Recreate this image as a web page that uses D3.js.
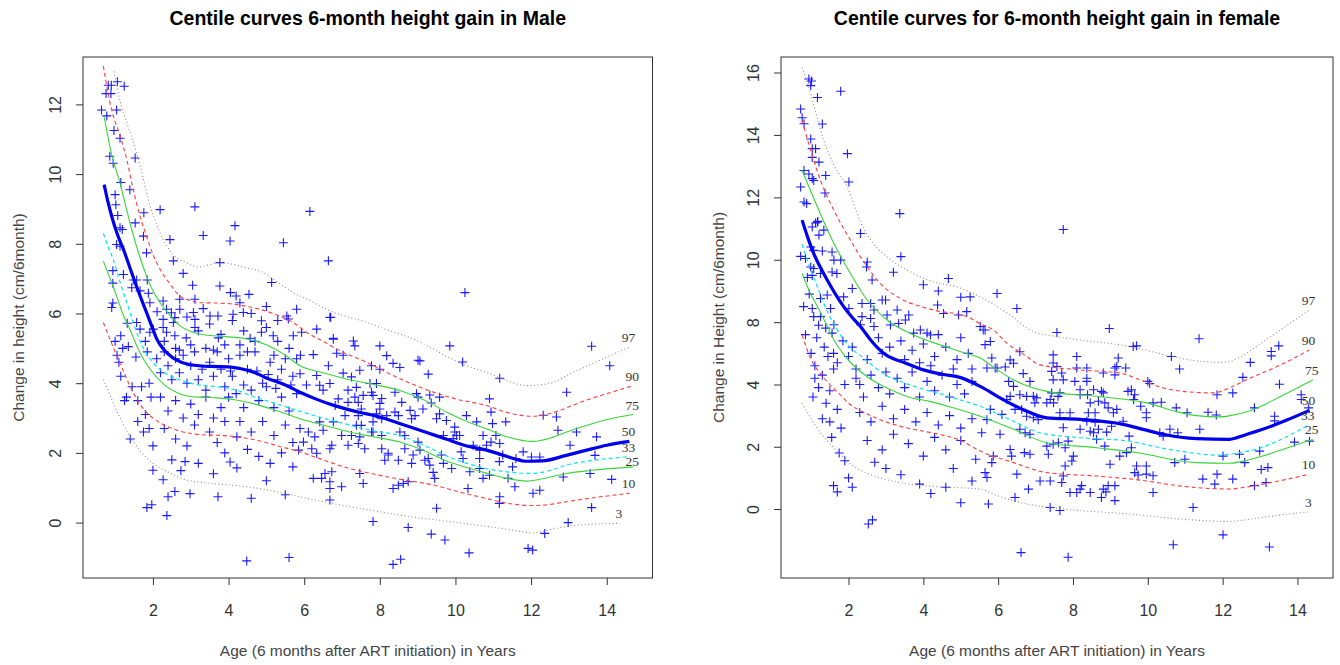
<!DOCTYPE html>
<html><head><meta charset="utf-8">
<script src="https://cdn.jsdelivr.net/npm/d3@7"></script>
<style>body{margin:0;background:#fff}svg{display:block}</style>
</head><body>
<svg id="chart" width="1340" height="665"></svg>
<script>
// ---------------- DATA ----------------
const xTicks = [2,4,6,8,10,12,14];
const maleYTicks = [0,2,4,6,8,10,12];
const femaleYTicks = [0,2,4,8,10,12,14,16];
const centileNames = ["97","90","75","50","33","25","10","3"];

const maleTitle = "Centile curves 6-month height gain in Male";
const femaleTitle = "Centile curves for 6-month height gain in female";
const xTitle = "Age (6 months after ART initiation) in Years";
const maleYTitle = "Change in height (cm/6month)";
const femaleYTitle = "Change in Height (cm/6month)";

// Male centile curves [age, gain]
const male97 = [[0.97,12.95],[1.13,12.1],[1.35,11.35],[1.57,10.6],[1.75,9.85],[1.92,9.1],[2.1,8.55],[2.27,8.12],[2.45,7.8],[2.63,7.6],[2.9,7.45],[3.2,7.33],[3.5,7.4],[3.77,7.46],[4.12,7.41],[4.5,7.3],[4.87,7.2],[5.3,6.9],[5.71,6.6],[6.1,6.4],[6.59,6.12],[7.0,5.95],[7.5,5.8],[8.09,5.57],[8.5,5.42],[8.79,5.31],[9.3,5.05],[9.8,4.75],[10.3,4.5],[10.82,4.31],[11.3,4.1],[11.88,3.93],[12.2,3.95],[12.6,4.03],[13.0,4.25],[13.5,4.5],[14.0,4.75],[14.6,5.03]];
const male90 = [[0.69,13.1],[0.8,12.4],[0.91,11.84],[1.0,11.5],[1.08,11.27],[1.2,10.85],[1.31,10.41],[1.45,9.7],[1.61,8.98],[1.83,8.22],[2.0,7.7],[2.19,7.27],[2.45,6.85],[2.71,6.5],[3.0,6.37],[3.24,6.31],[3.7,6.3],[4.12,6.27],[4.5,6.2],[4.83,6.12],[5.3,5.95],[5.71,5.74],[6.06,5.46],[6.5,5.2],[7.0,4.9],[7.65,4.6],[8.2,4.3],[8.8,4.0],[9.4,3.75],[10.0,3.55],[10.82,3.36],[11.4,3.15],[12.05,3.05],[12.4,3.1],[12.76,3.22],[13.3,3.45],[14.0,3.7],[14.7,3.93]];
const male75 = [[0.71,11.65],[0.9,10.6],[1.13,9.74],[1.3,9.0],[1.44,8.41],[1.63,7.7],[1.83,7.08],[2.0,6.65],[2.19,6.31],[2.45,5.95],[2.71,5.65],[3.1,5.45],[3.6,5.36],[4.0,5.33],[4.48,5.27],[5.0,5.1],[5.5,4.8],[5.89,4.5],[6.5,4.3],[7.2,4.1],[7.9,3.95],[8.53,3.79],[9.2,3.5],[9.8,3.15],[10.3,2.9],[10.82,2.69],[11.4,2.45],[12.05,2.33],[12.5,2.42],[12.94,2.6],[13.5,2.8],[14.1,2.98],[14.7,3.1]];
const male50 = [[0.71,9.7],[0.8,9.25],[0.91,8.79],[1.05,8.3],[1.22,7.84],[1.38,7.35],[1.53,6.89],[1.68,6.45],[1.83,6.03],[2.0,5.55],[2.1,5.27],[2.3,4.95],[2.5,4.75],[2.75,4.6],[3.0,4.53],[3.5,4.48],[4.0,4.47],[4.3,4.42],[4.7,4.3],[5.0,4.15],[5.5,3.95],[5.89,3.74],[6.3,3.55],[6.76,3.37],[7.4,3.18],[8.0,3.03],[8.5,2.85],[9.2,2.6],[9.77,2.39],[10.3,2.2],[10.82,2.08],[11.3,1.92],[11.88,1.76],[12.3,1.77],[12.9,1.92],[13.47,2.08],[14.0,2.22],[14.6,2.33]];
const male33 = [[0.69,8.3],[0.82,7.9],[0.95,7.55],[1.13,6.9],[1.31,6.31],[1.45,5.85],[1.57,5.46],[1.75,5.0],[2.0,4.6],[2.3,4.3],[2.7,4.1],[3.2,3.95],[3.7,3.9],[4.2,3.8],[4.7,3.6],[5.3,3.4],[5.89,3.19],[6.5,3.0],[7.2,2.8],[7.9,2.62],[8.53,2.5],[9.2,2.2],[9.8,1.9],[10.3,1.7],[10.82,1.55],[11.4,1.45],[12.05,1.41],[12.5,1.5],[12.94,1.65],[13.6,1.78],[14.6,1.89]];
const male25 = [[0.69,7.5],[0.85,7.05],[1.04,6.5],[1.2,6.0],[1.39,5.55],[1.6,5.0],[1.8,4.6],[2.0,4.3],[2.3,3.95],[2.7,3.7],[3.2,3.6],[3.7,3.58],[4.2,3.52],[4.7,3.4],[5.3,3.2],[5.89,2.98],[6.5,2.8],[7.2,2.6],[7.9,2.45],[8.53,2.31],[9.2,2.05],[9.8,1.75],[10.3,1.58],[10.82,1.42],[11.3,1.28],[11.88,1.19],[12.4,1.28],[12.94,1.41],[13.6,1.5],[14.7,1.6]];
const male10 = [[0.69,5.74],[0.85,5.3],[1.0,4.9],[1.2,4.4],[1.4,3.9],[1.6,3.5],[1.8,3.2],[2.0,3.0],[2.4,2.75],[2.8,2.6],[3.3,2.52],[3.8,2.5],[4.3,2.45],[4.8,2.35],[5.3,2.2],[5.89,2.03],[6.5,1.8],[7.2,1.55],[7.8,1.4],[8.5,1.25],[9.41,1.08],[10.1,0.88],[10.82,0.69],[11.4,0.55],[12.05,0.49],[12.5,0.52],[12.94,0.6],[13.7,0.72],[14.6,0.84]];
const male3 = [[0.69,4.1],[0.85,3.7],[1.0,3.3],[1.2,2.85],[1.5,2.3],[1.75,1.95],[2.0,1.7],[2.4,1.45],[2.8,1.25],[3.3,1.15],[3.8,1.1],[4.3,1.05],[4.8,0.98],[5.3,0.88],[5.89,0.74],[6.5,0.6],[7.2,0.46],[7.9,0.33],[8.6,0.2],[9.85,0.03],[10.5,-0.06],[11.17,-0.16],[11.6,-0.23],[12.05,-0.3],[12.5,-0.2],[12.94,-0.11],[13.6,-0.05],[14.35,-0.02]];

// Male observations [age, gain]
const malePoints = [
[0.64,11.84],[0.82,12.55],[0.76,12.31],[0.89,12.31],[0.9,12.55],[1.06,12.65],[1.24,12.52],[0.78,11.67],[1.04,11.84],[0.97,11.25],[1.13,11.03],[0.86,10.51],[0.95,10.31],[1.53,10.46],[1.15,9.76],[1.39,9.55],[1.0,9.41],[1.02,9.12],[1.07,8.81],[1.13,8.46],[1.19,8.41],[1.76,8.89],[2.19,8.98],[3.11,9.06],[1.53,8.6],[1.75,8.22],[1.83,7.74],[2.45,8.12],[3.33,8.24],[4.17,8.52],[4.04,8.08],[3.77,7.46],[2.54,7.51],[2.8,7.15],[1.04,7.98],[1.13,7.93],[0.94,7.23],[0.94,6.87],[0.94,6.3],[0.91,6.17],[1.22,7.12],[1.44,6.74],[1.48,6.96],[1.57,6.96],[1.85,6.96],[1.66,6.65],[1.88,6.58],[1.92,6.31],[2.27,6.36],[2.36,6.12],[3.05,6.81],[3.11,6.41],[3.77,6.79],[4.05,6.6],[4.3,6.31],[4.54,6.55],[3.33,6.14],[3.07,6.03],[3.11,5.83],[3.11,5.6],[2.71,6.41],[2.71,6.12],[3.51,5.93],[3.72,5.93],[4.12,5.98],[4.39,6.03],[5.45,8.03],[6.15,8.93],[6.64,7.51],[5.14,6.89],[5.8,6.12],[5.54,5.93],[5.58,5.84],[6.68,5.89],[6.33,5.55],[6.77,5.29],[4.87,5.79],[4.87,5.46],[5.18,5.36],[5.71,5.36],[5.93,5.46],[4.57,5.29],[3.73,5.3],[2.88,5.3],[2.58,5.36],[2.36,5.46],[2.27,5.6],[2.54,5.74],[2.58,5.88],[2.49,6.02],[2.01,5.55],[1.66,5.55],[1.57,5.74],[1.32,5.72],[1.15,5.36],[1.92,5.46],[2.11,6.05],[2.27,5.83],
[1.05,4.8],[1.1,4.6],[1.2,5.0],[1.15,4.2],[1.3,3.6],[1.25,3.5],[1.45,3.9],[1.6,3.5],[1.7,3.9],[1.8,3.1],[1.9,4.0],[1.95,3.6],[1.4,2.4],[1.6,2.9],[1.75,2.6],[1.9,2.7],[2.0,2.2],[1.0,5.2],[1.35,5.05],[1.55,4.75],[1.85,4.9],[1.8,5.2],[1.84,0.43],[1.97,0.51],[2.0,1.5],
[2.1,4.7],[2.2,4.3],[2.3,4.9],[2.4,4.5],[2.5,4.1],[2.6,4.7],[2.7,4.3],[2.8,4.8],[2.9,4.0],[3.0,4.5],[3.1,4.9],[3.2,4.1],[3.3,4.4],[3.4,3.8],[3.5,4.6],[3.6,4.2],[3.7,4.9],[3.8,4.4],[3.9,3.9],[4.0,4.7],[2.2,3.6],[2.4,3.2],[2.6,3.5],[2.8,3.0],[3.0,3.4],[3.2,3.1],[3.4,3.6],[3.6,3.0],[3.8,3.3],[4.0,3.6],[2.3,2.7],[2.6,2.4],[2.9,2.2],[3.1,2.8],[3.5,2.6],[3.7,2.3],[3.9,2.9],[2.5,1.8],[2.85,1.75],[3.2,1.7],[3.6,1.4],[3.9,2.0],[2.27,1.23],[2.4,0.74],[2.58,0.89],[2.37,0.2],[2.74,1.49],[2.98,0.83],[3.72,0.74],[4.04,1.74],[4.22,1.57],[4.22,2.46],[4.48,-1.1],
[2.3,5.2],[2.6,5.0],[2.9,5.9],[3.2,5.5],[3.5,5.7],[3.8,5.4],[4.1,5.8],[4.4,5.5],[4.7,5.2],[5.0,5.6],[5.3,5.2],[5.6,5.0],[4.2,6.5],[4.6,6.0],[5.0,6.2],[5.3,5.8],[3.0,5.1],[3.4,5.0],[3.9,5.1],[4.5,4.9],[5.2,4.8],[5.8,4.7],[2.7,4.95],[3.6,4.95],[4.3,5.1],
[4.1,4.2],[4.3,4.8],[4.5,4.4],[4.7,4.9],[4.9,4.0],[5.1,4.6],[5.3,4.1],[5.5,4.7],[5.7,4.2],[5.9,4.8],[4.2,3.7],[4.4,3.3],[4.6,3.8],[4.8,3.5],[5.0,3.9],[5.2,3.3],[5.4,3.6],[5.6,3.2],[5.8,3.7],[4.3,2.9],[4.6,2.6],[4.9,2.9],[5.2,2.5],[5.5,2.8],[5.7,2.3],[4.5,2.1],[4.8,1.9],[5.1,1.7],[5.4,2.0],[5.7,1.6],[5.0,1.2],[5.5,0.8],[4.6,0.7],[5.6,-1.0],[5.4,4.4],[4.05,4.35],[4.75,4.35],[5.05,4.25],[5.65,3.95],[4.4,3.95],[5.25,3.85],
[10.25,6.6],[6.7,5.89],[6.33,5.55],[6.77,5.26],[7.3,5.21],[7.34,5.07],[8.0,5.07],[9.85,5.07],[6.24,4.82],[6.86,4.86],[7.03,4.8],[8.18,4.79],[9.06,4.64],[10.19,4.61],[11.17,4.14],[8.35,4.57],[6.64,4.5],[7.47,4.37],[7.78,4.5],[8.0,4.4],[8.53,4.45],[9.28,4.26],[5.89,4.27],[6.33,4.22],[6.68,3.99],[7.03,4.29],[7.25,4.18],[7.74,3.99],[7.91,3.99],[9.01,4.66],[6.06,3.95],[6.41,3.94],[6.5,3.8],[7.16,3.8],[7.78,3.74],[7.82,3.65],[8.05,3.56],[8.0,3.42],[8.4,3.74],[8.97,3.7],[9.01,3.6],[9.32,3.66],[9.36,3.43],[9.58,3.6],[9.98,2.74],[10.56,2.89],[10.98,2.84],[11.33,2.89],[10.94,3.17],[10.9,3.55],[10.94,2.31],[11.07,2.5],[11.17,2.27],[11.79,2.03],[12.01,1.88],[12.23,1.88],[12.32,3.08],[12.67,3.03],[12.71,2.65],[12.94,3.74],[13.03,2.22],[13.2,2.6],[13.6,5.06],[14.08,4.5],[13.69,1.93],[13.73,2.46],[14.13,1.24],[13.56,1.41],[12.85,1.31],[13.6,0.43],[12.23,0.93],[12.05,0.84],[11.17,0.74],[11.16,0.55],[11.57,1.03],[11.39,1.27],[10.9,1.36],[10.73,1.27],[10.33,0.98],[10.64,1.55],[10.64,1.84],[10.64,2.08],[10.2,1.84],[10.15,2.03],[9.9,1.55],[9.68,1.7],[9.63,1.94],[9.68,2.5],[10.03,2.5],[9.98,2.6],[9.45,1.27],[9.41,1.44],[9.5,0.41],[9.32,1.65],[9.19,1.79],[9.06,2.08],[8.84,1.7],[8.75,1.17],[8.62,1.12],[8.49,1.07],[8.35,0.98],[8.22,1.94],[8.13,1.79],[8.05,2.12],[7.82,2.6],[7.82,2.89],[7.6,2.12],[7.43,2.27],[7.16,2.22],[7.38,2.79],[7.51,2.79],[7.56,1.12],[7.47,1.41],[6.99,1.03],[6.68,0.65],[6.68,0.98],[6.68,1.17],[6.73,1.46],[6.55,1.41],[6.46,1.27],[6.24,1.27],[6.2,2.12],[6.28,2.46],[6.11,2.6],[5.85,2.08],[6.33,1.99],[5.89,2.7],[5.98,2.31],[6.5,2.65],[6.68,2.12],[6.73,2.22],[6.99,2.5],[7.25,2.5],[7.47,2.46],[7.78,2.6],[8.05,2.5],[8.22,1.99],[8.49,1.79],[8.66,2.12],[8.88,1.94],[8.66,2.5],[8.53,2.6],[8.84,2.98],[9.01,2.31],[9.28,1.84],[7.82,0.03],[8.75,-0.14],[9.36,-0.33],[9.72,-0.5],[12.36,-0.31],[12.98,0.0],[11.92,-0.74],[8.49,3.07],[8.58,3.45],[8.05,2.98],[7.91,3.12],[7.43,3.07],[7.08,3.07],[6.77,2.89],[6.41,2.89],[7.16,3.45],[6.82,3.36],[7.43,3.45],[7.51,3.26],[6.9,3.55],[7.34,3.6],[7.56,3.65],[7.38,3.88],[8.0,3.26],[8.18,3.07],[8.4,3.17],[8.8,3.22],[8.93,3.07],[9.14,3.26],[9.5,2.98],[9.58,3.12],[9.76,2.93],[10.11,2.5],[10.29,3.07],[10.73,2.5],[10.82,2.22],[10.47,2.22],[11.25,1.94],[11.6,1.84],[11.51,1.6],[11.16,1.75],[10.38,1.46],[9.94,2.41],
[8.35,-1.2],[8.55,-1.05],[10.36,-0.87],[12.04,-0.79]
];

// Female centile curves [age, gain] (values read against the printed axis labels)
const female97 = [[0.76,16.16],[0.99,15.31],[1.15,14.6],[1.34,13.82],[1.61,13.02],[1.97,12.33],[2.32,11.21],[2.59,10.63],[3.03,10.09],[3.57,9.67],[4.27,9.29],[4.9,9.13],[5.52,8.81],[6.32,8.23],[6.85,7.5],[7.5,7.1],[8.19,6.86],[9.52,6.44],[10.3,6.0],[11.12,5.58],[12.01,5.42],[12.5,5.8],[12.9,6.44],[13.6,7.6],[14.32,8.39]];
const female90 = [[0.76,14.46],[0.99,13.5],[1.25,12.54],[1.61,11.58],[2.05,10.63],[2.5,9.77],[2.94,9.13],[3.39,8.76],[4.27,8.39],[5.16,8.18],[5.52,7.9],[5.87,7.5],[6.23,6.66],[6.7,5.9],[7.12,5.26],[8.19,4.94],[9.25,4.74],[9.8,4.3],[10.41,3.89],[11.1,3.76],[11.74,3.73],[12.2,3.9],[12.63,4.3],[13.5,5.2],[14.32,6.22]];
const female75 = [[0.76,12.86],[1.17,11.69],[1.61,10.52],[2.05,9.56],[2.5,8.71],[3.03,8.07],[3.74,7.18],[4.5,6.5],[5.0,6.1],[5.52,5.7],[6.0,4.9],[6.41,4.3],[7.3,3.78],[8.63,3.62],[9.97,3.41],[10.7,3.15],[11.3,3.0],[11.92,2.96],[12.4,3.05],[12.81,3.19],[13.6,3.65],[14.41,4.3]];
const female50 = [[0.76,11.27],[0.9,10.75],[1.07,10.2],[1.25,9.75],[1.43,9.35],[1.65,8.9],[1.87,8.5],[2.1,8.15],[2.32,7.72],[2.59,6.86],[2.8,6.3],[3.0,5.9],[3.5,5.4],[4.0,4.94],[4.5,4.66],[5.0,4.44],[5.52,3.94],[6.14,3.51],[6.67,3.19],[7.3,2.93],[8.19,2.88],[9.34,2.72],[9.9,2.55],[10.41,2.4],[11.3,2.26],[12.19,2.24],[12.6,2.38],[13.07,2.56],[13.7,2.85],[14.32,3.17]];
const female33 = [[0.76,10.5],[0.95,9.8],[1.17,9.13],[1.43,8.35],[1.7,7.5],[2.0,6.5],[2.4,5.7],[3.0,4.6],[3.5,4.1],[4.0,3.85],[4.6,3.65],[5.0,3.5],[5.52,3.3],[6.41,2.82],[7.12,2.45],[8.19,2.29],[9.52,2.18],[10.2,2.0],[10.85,1.86],[11.92,1.73],[12.4,1.8],[12.9,1.92],[13.5,2.2],[14.3,2.7]];
const female25 = [[0.76,9.56],[0.95,9.0],[1.17,8.5],[1.4,7.9],[1.61,6.86],[1.85,6.0],[2.1,5.3],[2.5,4.5],[3.0,3.9],[3.6,3.6],[4.2,3.45],[4.8,3.25],[5.52,2.98],[6.41,2.56],[7.3,2.13],[8.63,1.97],[9.97,1.76],[10.6,1.6],[11.3,1.49],[12.19,1.47],[12.6,1.55],[13.07,1.7],[13.7,1.95],[14.41,2.24]];
const female10 = [[0.76,7.18],[1.0,5.6],[1.25,4.7],[1.5,4.0],[1.75,3.7],[2.0,3.4],[2.5,3.05],[3.0,2.8],[3.5,2.62],[4.0,2.5],[4.5,2.38],[5.0,2.2],[5.52,1.86],[6.41,1.49],[7.3,1.17],[8.63,1.06],[9.97,0.9],[10.6,0.78],[11.3,0.69],[12.19,0.64],[12.6,0.7],[13.07,0.8],[13.7,0.95],[14.32,1.12]];
const female3 = [[0.76,3.4],[1.0,2.9],[1.25,2.45],[1.5,2.1],[1.75,1.8],[2.0,1.5],[2.5,1.15],[3.0,0.95],[3.5,0.82],[4.0,0.75],[4.6,0.7],[5.0,0.68],[5.52,0.64],[6.0,0.42],[6.59,0.21],[7.74,0.0],[9.52,-0.16],[10.85,-0.32],[12.19,-0.4],[12.6,-0.35],[13.07,-0.27],[13.7,-0.17],[14.32,-0.09]];

// Female observations [age, gain]
const femalePoints = [
[0.94,15.79],[1.01,15.73],[0.99,15.58],[1.17,15.2],[1.79,15.4],[0.72,14.83],[0.76,14.55],[0.81,14.36],[1.3,14.35],[0.99,13.87],[1.03,13.56],[1.12,13.56],[1.03,13.28],[1.21,13.13],[1.97,13.4],[2.01,12.49],[1.39,12.7],[0.81,12.86],[0.94,12.75],[0.72,12.33],[1.03,12.6],[1.07,12.54],[1.37,12.14],[0.81,11.85],[0.88,11.8],[1.17,11.21],[1.03,11.05],[1.12,11.18],[1.18,11.23],[1.34,10.95],[1.21,10.79],[2.32,10.84],[0.72,10.11],[0.85,10.04],[0.99,10.41],[1.07,10.3],[1.3,10.28],[1.56,10.25],[1.61,9.99],[1.79,9.99],[0.99,9.77],[1.07,9.72],[0.9,9.43],[1.03,9.5],[1.25,9.56],[1.56,9.61],[1.69,9.56],[1.87,8.81],[2.1,9.08],[2.5,9.93],[2.48,9.77],[2.63,9.35],[1.03,8.44],[1.07,8.18],[1.25,8.76],[1.43,8.87],[1.52,8.44],[1.61,7.84],[1.25,8.18],[1.39,7.62],[1.56,7.3],[2.01,8.44],[2.36,8.6],[2.59,8.6],[2.68,8.39],[2.9,8.71],[2.99,8.71],[3.3,8.39],[3.61,8.23],[2.59,8.12],[2.68,7.72],[2.36,8.18],[2.32,7.84],[3.03,8.23],[3.12,7.82],[3.34,7.92],[3.52,8.07],[3.74,7.3],[3.92,7.5],[4.1,7.3],[4.19,7.18],[4.38,8.55],[4.54,8.28],[4.67,9.4],[4.94,8.23],[5.16,8.34],[5.25,8.81],[5.97,8.92],[6.5,8.44],[5.52,7.72],[5.65,7.5],[3.37,11.48],
[7.74,10.97],[7.57,7.34],[8.97,7.6],[9.61,6.44],[9.7,6.48],[11.37,6.94],[10.63,5.8],[10.85,5.0],[12.74,5.42],[13.3,6.12],[13.3,5.84],[13.5,6.48],[12.54,4.46],[13.52,4.02],[12.27,3.73],[11.85,3.67],[11.61,3.11],[11.83,3.02],[12.85,3.25],[13.39,2.98],[13.39,2.83],[14.1,3.67],[14.1,3.52],[14.3,3.25],[13.92,2.15],[14.32,2.18],[12.99,1.86],[12.45,1.76],[12.59,1.49],[12.01,1.7],[11.39,2.56],[11.05,3.09],[10.76,3.25],[10.59,2.56],[10.72,1.49],[10.99,1.6],[11.47,0.96],[11.79,0.8],[11.85,1.12],[12.27,0.96],[12.85,0.75],[13.03,1.27],[13.21,1.33],[13.16,0.85],[11.21,0.05],[12.01,-0.83],[10.68,-1.15],[13.25,-1.22],[10.14,0.53],[9.96,1.38],[9.96,1.12],[10.14,1.07],[9.74,1.09],[9.65,1.17],[9.7,1.38],[9.96,3.09],[9.96,2.93],[10.14,3.41],[10.36,3.43],[10.05,4.06],[10.0,4.2],[9.81,3.3],[9.65,3.67],[9.56,3.83],[9.62,3.52],[9.47,3.78],[9.41,5.06],[9.21,5.7],[9.17,5.16],[9.12,4.62],[9.5,2.34],[9.56,1.97],[9.25,1.7],[9.43,1.81],[8.99,1.44],[9.12,0.75],[9.12,0.27],[8.94,0.75],[8.81,0.64],[8.76,0.37],[8.88,0.55],[8.19,0.64],[8.1,0.53],[8.46,0.53],[8.23,0.75],[8.63,2.24],[8.55,2.45],[8.68,2.56],[8.46,2.5],[8.19,2.56],[8.37,2.82],[8.59,2.79],[8.9,2.47],[8.85,2.02],[8.94,3.25],[8.85,3.41],[9.17,3.2],[9.08,3.09],[9.34,2.82],[9.03,2.66],[8.59,3.09],[8.41,3.09],[8.46,3.41],[8.68,3.46],[8.81,3.73],[8.76,3.78],[8.19,3.67],[8.39,3.67],[8.19,3.83],[8.05,4.2],[8.37,4.2],[8.37,4.4],[8.1,5.06],[8.37,5.06],[8.55,3.83],[7.65,3.73],[7.43,3.73],[7.6,3.62],[7.39,3.52],[7.3,3.41],[7.65,3.09],[7.92,3.09],[7.48,3.41],[7.47,4.3],[7.74,4.3],[7.43,4.84],[7.57,5.16],[7.7,4.74],[7.47,5.9],[6.67,4.7],[6.85,4.2],[6.58,3.67],[6.41,3.94],[6.32,3.62],[6.23,3.52],[6.76,3.62],[6.94,3.62],[6.98,3.41],[7.03,3.57],[7.07,2.87],[6.94,2.93],[6.76,2.98],[6.63,3.2],[6.45,3.2],[6.1,3.04],[5.79,3.2],[5.7,2.87],[5.56,2.45],[6.05,2.4],[6.58,2.56],[6.72,2.45],[6.85,2.4],[7.3,2.02],[7.34,1.76],[7.47,2.08],[7.61,2.13],[7.87,2.18],[7.79,1.97],[7.74,2.61],[8.01,1.7],[7.97,1.54],[7.79,1.38],[7.92,0.53],[7.7,0.85],[7.65,-0.05],[7.39,0.05],[6.81,0.64],[6.5,1.12],[6.36,1.7],[6.32,1.91],[6.7,1.81],[6.85,1.76],[7.12,0.9],[7.39,0.9],[7.74,1.06],[5.65,1.17],[5.7,1.01],[5.83,1.49],[5.87,1.7],[6.45,0.37],[5.74,0.16],[5.6,7.5],[5.65,6.56],[5.79,6.76],[5.92,5.06],[5.83,5.7],[5.7,5.06],[5.97,5.06],[6.32,5.58],[6.41,5.36],[6.58,6.1],[6.28,4.2],[6.19,5.12],[7.47,5.38],[8.1,5.8],[8.81,4.74],[9.12,5.06],[10.8,2.45],[10.41,2.34],[10.32,2.45],[6.61,-1.4],[7.87,-1.55],
[2.2,5.0],[2.3,4.0],[2.4,3.6],[2.5,5.6],[2.6,4.6],[2.8,3.9],[3.0,4.8],[3.1,3.7],[3.3,4.4],[3.5,3.9],[3.7,4.8],[3.9,3.6],[4.1,4.2],[4.3,3.8],[4.5,4.6],[4.7,3.6],[4.9,4.0],[5.1,3.7],[5.3,4.2],[2.3,3.1],[2.6,2.8],[2.9,3.3],[3.2,2.9],[3.5,3.2],[3.8,2.8],[4.1,3.1],[4.4,2.7],[4.7,3.0],[5.0,2.6],[5.3,2.9],[2.5,2.2],[2.9,1.9],[3.2,2.4],[3.6,2.1],[4.0,1.7],[4.3,2.3],[4.6,1.9],[5.0,2.2],[5.4,1.6],[3.0,1.3],[3.4,1.1],[3.9,0.8],[4.2,0.5],[4.6,0.7],[5.0,0.2],[5.3,0.9],[2.7,1.5],[4.8,1.3],[2.53,-0.48],[2.64,-0.35],[1.6,0.75],[1.7,0.55],[2.0,1.0],[2.1,0.7],
[3.4,6.8],[3.7,6.2],[4.0,6.6],[4.3,5.8],[4.6,6.4],[4.9,5.6],[5.2,6.0],[3.1,6.4],[2.8,7.0],[4.4,7.2],[5.0,7.0],[3.9,5.4],[4.2,5.2],[4.8,5.0],[5.3,5.0],[3.5,5.6],[2.9,6.0],
[3.2,9.6],[3.4,10.1],[4.0,9.2],[4.4,9.0],[5.0,8.8],
[1.1,5.2],[1.2,3.9],[1.3,4.6],[1.4,3.4],[1.5,3.8],[1.6,5.0],[1.7,3.2],[1.8,2.6],[1.9,4.0],[1.3,2.9],[1.55,2.3],[1.75,1.8],[1.9,1.55],[1.0,6.0],[1.15,7.0],[1.35,6.4],[1.6,6.0],[1.85,6.8],[2.0,5.8],[1.1,4.4],[0.85,7.2],[0.8,8.5],[0.95,8.9],[1.2,7.8],[1.45,5.8],[1.7,5.4],[2.1,6.4],[2.2,4.4],[1.05,3.6],[1.5,2.8]
];

// ---------------- DRAWING ----------------
const svg = d3.select("#chart");
const FONT = "'Liberation Sans', Arial, sans-serif";

const curveStyle = {
  "97": {stroke:"#8c8c8c", dash:"1,2.5", width:1.1},
  "90": {stroke:"#ff3b3b", dash:"4,3", width:1.1},
  "75": {stroke:"#3ad43a", dash:null, width:1.1},
  "50": {stroke:"#0000ee", dash:null, width:3.2},
  "33": {stroke:"#00e5ee", dash:"4,3", width:1.2},
  "25": {stroke:"#3ad43a", dash:null, width:1.1},
  "10": {stroke:"#ff3b3b", dash:"4,3", width:1.1},
  "3":  {stroke:"#8c8c8c", dash:"1,2.5", width:1.1}
};

function drawPanel(o) {
  const g = svg.append("g");
  const [x0, x1] = o.x.range();
  const yb = o.box[1], yt = o.box[0];
  const clipId = "clip-" + o.id;
  g.append("clipPath").attr("id", clipId).append("rect")
    .attr("x", x0).attr("y", yt).attr("width", x1 - x0).attr("height", yb - yt);
  const plot = g.append("g").attr("clip-path", `url(#${clipId})`);

  // observations as "+" marks
  const r = 4.5;
  plot.append("path")
    .attr("d", o.points.map(([a, b]) => {
      const px = o.x(a), py = o.y(b);
      return `M${px - r},${py}H${px + r}M${px},${py - r}V${py + r}`;
    }).join(""))
    .attr("fill", "none").attr("stroke", "#1a1aff").attr("stroke-width", 1.1);

  const line = d3.line().x(d => o.x(d[0])).y(d => o.y(d[1])).curve(d3.curveMonotoneX);
  o.curves.forEach((c, i) => {
    const s = curveStyle[centileNames[i]];
    plot.append("path").datum(c).attr("d", line)
      .attr("fill", "none").attr("stroke", s.stroke).attr("stroke-width", s.width)
      .attr("stroke-dasharray", s.dash).attr("stroke-linejoin", "round");
  });

  // centile labels at curve ends, pushed apart when they would collide
  const labs = o.curves.map((c, i) => {
    const last = c[c.length - 1];
    return {name: centileNames[i], x: o.x(last[0]) - 1, y: o.y(last[1]) - 8};
  }).sort((a, b) => a.y - b.y);
  for (let i = 1; i < labs.length; i++) {
    if (labs[i].y - labs[i - 1].y < 14) labs[i].y = labs[i - 1].y + 14;
  }
  labs.forEach(l => {
    g.append("text").attr("x", l.x).attr("y", l.y)
      .attr("text-anchor", "middle").attr("dominant-baseline", "middle")
      .attr("font-family", "'Liberation Serif', 'DejaVu Serif', serif").attr("font-size", 13.5)
      .attr("fill", "#333").text(l.name);
  });

  // box
  g.append("rect").attr("x", x0).attr("y", yt).attr("width", x1 - x0).attr("height", yb - yt)
    .attr("fill", "none").attr("stroke", "#333").attr("stroke-width", 1);

  // x axis
  const xa = g.append("g").attr("transform", `translate(0,${yb})`)
    .call(d3.axisBottom(o.x).tickValues(xTicks).tickSize(7).tickPadding(20).tickFormat(d3.format("d")));
  xa.select(".domain").remove();
  xa.selectAll("line").attr("stroke", "#333");
  xa.selectAll("text").attr("font-family", FONT).attr("font-size", 16).attr("fill", "#333");

  // y axis
  const ya = g.append("g").attr("transform", `translate(${x0},0)`)
    .call(d3.axisLeft(o.y).tickValues(o.yTicks).tickSize(7).tickFormat(d3.format("d")));
  ya.select(".domain").remove();
  ya.selectAll("line").attr("stroke", "#333");
  ya.selectAll("text").attr("font-family", FONT).attr("font-size", 16).attr("fill", "#333")
    .attr("transform", "rotate(-90)").attr("x", 0).attr("y", -22).attr("dy", 0)
    .attr("text-anchor", "middle");

  // titles
  const cx = (x0 + x1) / 2;
  g.append("text").attr("x", cx).attr("y", 25).attr("text-anchor", "middle")
    .attr("font-family", FONT).attr("font-weight", "bold").attr("font-size", 19.5)
    .attr("fill", "#000").text(o.title);
  g.append("text").attr("x", cx).attr("y", 656).attr("text-anchor", "middle")
    .attr("font-family", FONT).attr("font-size", 15.5).attr("fill", "#444").text(xTitle);
  g.append("text").attr("transform", `translate(${o.yTitleX},${(yt + yb) / 2}) rotate(-90)`)
    .attr("text-anchor", "middle").attr("font-family", FONT).attr("font-size", 15.5)
    .attr("fill", "#444").text(o.yTitle);
}

// Male panel
drawPanel({
  id: "male",
  x: d3.scaleLinear().domain([0.151, 15.21]).range([83, 652.5]),
  y: d3.scaleLinear().domain([-1.59, 13.36]).range([578, 57]),
  box: [57, 578],
  yTicks: maleYTicks,
  points: malePoints,
  curves: [male97, male90, male75, male50, male33, male25, male10, male3],
  title: maleTitle, yTitle: maleYTitle, yTitleX: 24
});

// Female panel (printed axis labels 0,2,4,8,...,16 sit on evenly spaced ticks)
drawPanel({
  id: "female",
  x: d3.scaleLinear().domain([0.195, 14.95]).range([781, 1333]),
  y: d3.scaleLinear().domain([0, 4, 8, 16]).range([509, 384.5, 322.2, 72.5]),
  box: [57, 578],
  yTicks: femaleYTicks,
  points: femalePoints,
  curves: [female97, female90, female75, female50, female33, female25, female10, female3],
  title: femaleTitle, yTitle: femaleYTitle, yTitleX: 724
});
</script>
</body></html>
